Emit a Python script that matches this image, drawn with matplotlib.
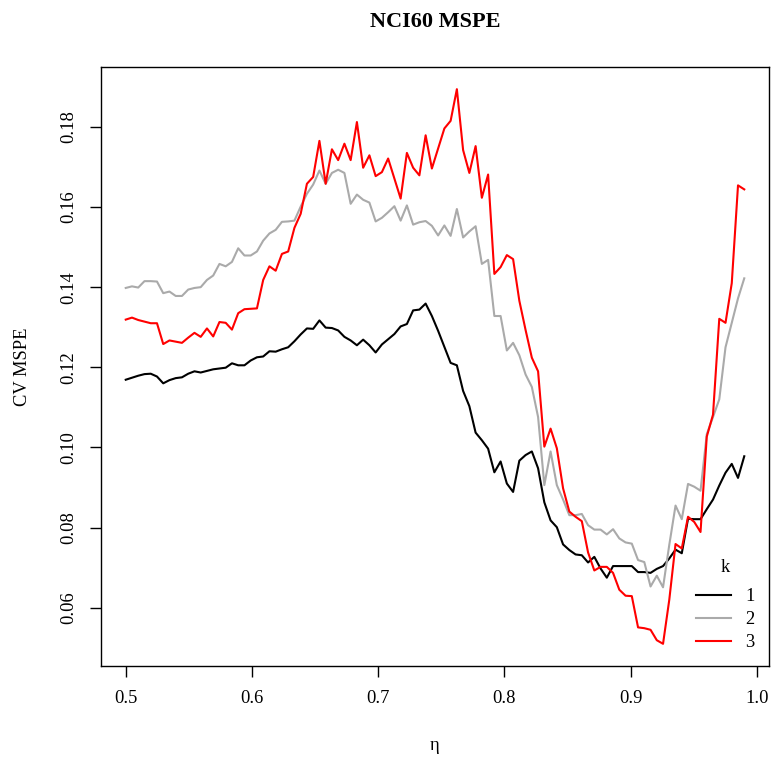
import matplotlib
matplotlib.use('Agg')
import matplotlib.pyplot as plt
import numpy as np

plt.rcParams['font.family'] = ['Liberation Serif', 'DejaVu Serif']

# tuning grid for eta
eta = np.linspace(0.5, 0.99, 100)

# cross-validated MSPE for k = 1, 2, 3
mspe_k1 = [
    0.1169, 0.1174, 0.1179, 0.1183, 0.1184, 0.1177, 0.1160, 0.1168, 0.1173, 0.1175,
    0.1184, 0.1190, 0.1187, 0.1191, 0.1195, 0.1197, 0.1199, 0.1210, 0.1205, 0.1205,
    0.1217, 0.1225, 0.1227, 0.1240, 0.1239, 0.1245, 0.1250, 0.1265, 0.1282, 0.1297,
    0.1296, 0.1317, 0.1299, 0.1298, 0.1292, 0.1276, 0.1267, 0.1255, 0.1269, 0.1255,
    0.1237, 0.1257, 0.1270, 0.1283, 0.1302, 0.1308, 0.1342, 0.1344, 0.1359, 0.1328,
    0.1291, 0.1251, 0.1211, 0.1205, 0.1141, 0.1103, 0.1037, 0.1018, 0.0997, 0.0938,
    0.0965, 0.0910, 0.0889, 0.0967, 0.0981, 0.0990, 0.0948, 0.0863, 0.0818, 0.0801,
    0.0758, 0.0744, 0.0733, 0.0731, 0.0713, 0.0727, 0.0698, 0.0675, 0.0704, 0.0704,
    0.0704, 0.0704, 0.0689, 0.0689, 0.0687, 0.0697, 0.0704, 0.0723, 0.0745, 0.0736,
    0.0822, 0.0821, 0.0821, 0.0846, 0.0870, 0.0905, 0.0937, 0.0959, 0.0924, 0.0978,
]
mspe_k2 = [
    0.1398, 0.1402, 0.1399, 0.1415, 0.1415, 0.1414, 0.1385, 0.1389, 0.1378, 0.1378,
    0.1394, 0.1398, 0.1400, 0.1418, 0.1429, 0.1458, 0.1452, 0.1463, 0.1497, 0.1479,
    0.1479, 0.1489, 0.1516, 0.1534, 0.1543, 0.1563, 0.1564, 0.1566, 0.1601, 0.1633,
    0.1656, 0.1691, 0.1658, 0.1685, 0.1693, 0.1685, 0.1608, 0.1631, 0.1618, 0.1611,
    0.1564, 0.1573, 0.1587, 0.1602, 0.1566, 0.1604, 0.1556, 0.1562, 0.1565, 0.1553,
    0.1529, 0.1554, 0.1528, 0.1595, 0.1524, 0.1539, 0.1552, 0.1458, 0.1468, 0.1328,
    0.1328, 0.1242, 0.1261, 0.1230, 0.1182, 0.1151, 0.1076, 0.0906, 0.0990, 0.0906,
    0.0870, 0.0831, 0.0831, 0.0834, 0.0806, 0.0795, 0.0795, 0.0783, 0.0796, 0.0773,
    0.0763, 0.0760, 0.0719, 0.0714, 0.0653, 0.0680, 0.0651, 0.0757, 0.0855, 0.0821,
    0.0909, 0.0902, 0.0892, 0.1033, 0.1076, 0.1120, 0.1250, 0.1311, 0.1372, 0.1422,
]
mspe_k3 = [
    0.1319, 0.1324, 0.1318, 0.1314, 0.1310, 0.1310, 0.1258, 0.1267, 0.1264, 0.1261,
    0.1274, 0.1286, 0.1276, 0.1297, 0.1277, 0.1313, 0.1311, 0.1294, 0.1335, 0.1345,
    0.1346, 0.1347, 0.1418, 0.1452, 0.1441, 0.1483, 0.1489, 0.1548, 0.1583, 0.1658,
    0.1675, 0.1765, 0.1658, 0.1744, 0.1717, 0.1758, 0.1717, 0.1812, 0.1698, 0.1729,
    0.1677, 0.1687, 0.1721, 0.1671, 0.1621, 0.1735, 0.1698, 0.1679, 0.1779, 0.1696,
    0.1746, 0.1796, 0.1815, 0.1894, 0.1742, 0.1685, 0.1752, 0.1623, 0.1681, 0.1433,
    0.1450, 0.1480, 0.1470, 0.1366, 0.1293, 0.1224, 0.1190, 0.1002, 0.1047, 0.0998,
    0.0898, 0.0840, 0.0827, 0.0816, 0.0738, 0.0693, 0.0702, 0.0702, 0.0687, 0.0645,
    0.0630, 0.0629, 0.0551, 0.0549, 0.0545, 0.0519, 0.0510, 0.0620, 0.0759, 0.0748,
    0.0827, 0.0814, 0.0789, 0.1027, 0.1082, 0.1321, 0.1311, 0.1410, 0.1654, 0.1644,
]

k_labels = ['1', '2', '3']
k_colors = ['black', '#aaaaaa', 'red']

x_ticks = [0.5, 0.6, 0.7, 0.8, 0.9, 1.0]
y_ticks = [0.06, 0.08, 0.10, 0.12, 0.14, 0.16, 0.18]


def r_limits(values):
    # base R style axis range: data range padded by 4% on each side
    lo, hi = np.min(values), np.max(values)
    pad = 0.04 * (hi - lo)
    return lo - pad, hi + pad


fig = plt.figure(figsize=(7.71, 7.60), dpi=100)
ax = fig.add_axes([101 / 771, 94 / 760, 668 / 771, 599 / 760])

all_series = [mspe_k1, mspe_k2, mspe_k3]
for vals, col, lab in zip(all_series, k_colors, k_labels):
    ax.plot(eta, vals, color=col, lw=1.5, label=lab)

ax.set_xlim(r_limits(eta))
ax.set_ylim(r_limits(np.concatenate(all_series)))

ax.set_xticks(x_ticks)
ax.set_xticklabels(['%.1f' % t for t in x_ticks])
ax.set_yticks(y_ticks)
ax.set_yticklabels(['%.2f' % t for t in y_ticks])
ax.tick_params(direction='out', length=8, width=1.0, labelsize=13.3, pad=9)
ax.tick_params(axis='y', labelrotation=90)
for lab in ax.get_yticklabels():
    lab.set_va('center')

for sp in ax.spines.values():
    sp.set_linewidth(1.0)

ax.set_xlabel('\u03b7', fontsize=13.3)
ax.xaxis.set_label_coords(0.5, -0.133)
ax.xaxis.label.set_va('center')
ax.set_ylabel('CV MSPE', fontsize=13.3)
ax.yaxis.set_label_coords(-0.118, 0.5)
ax.yaxis.label.set_va('center')

fig.text(435 / 771, 1 - 27 / 760, 'NCI60 MSPE', ha='center', va='baseline',
         fontsize=16, fontweight='bold')

leg = ax.legend(title='k', loc='lower right', bbox_to_anchor=(1.0, 0.0), frameon=False,
                fontsize=13.3, title_fontsize=13.3, handlelength=1.9, handletextpad=0.75,
                labelspacing=0.33, borderaxespad=0.4)
# a bit more room between the "k" title and the entries
leg._legend_box.sep = 8.4

fig.savefig('out.png', dpi=100)
